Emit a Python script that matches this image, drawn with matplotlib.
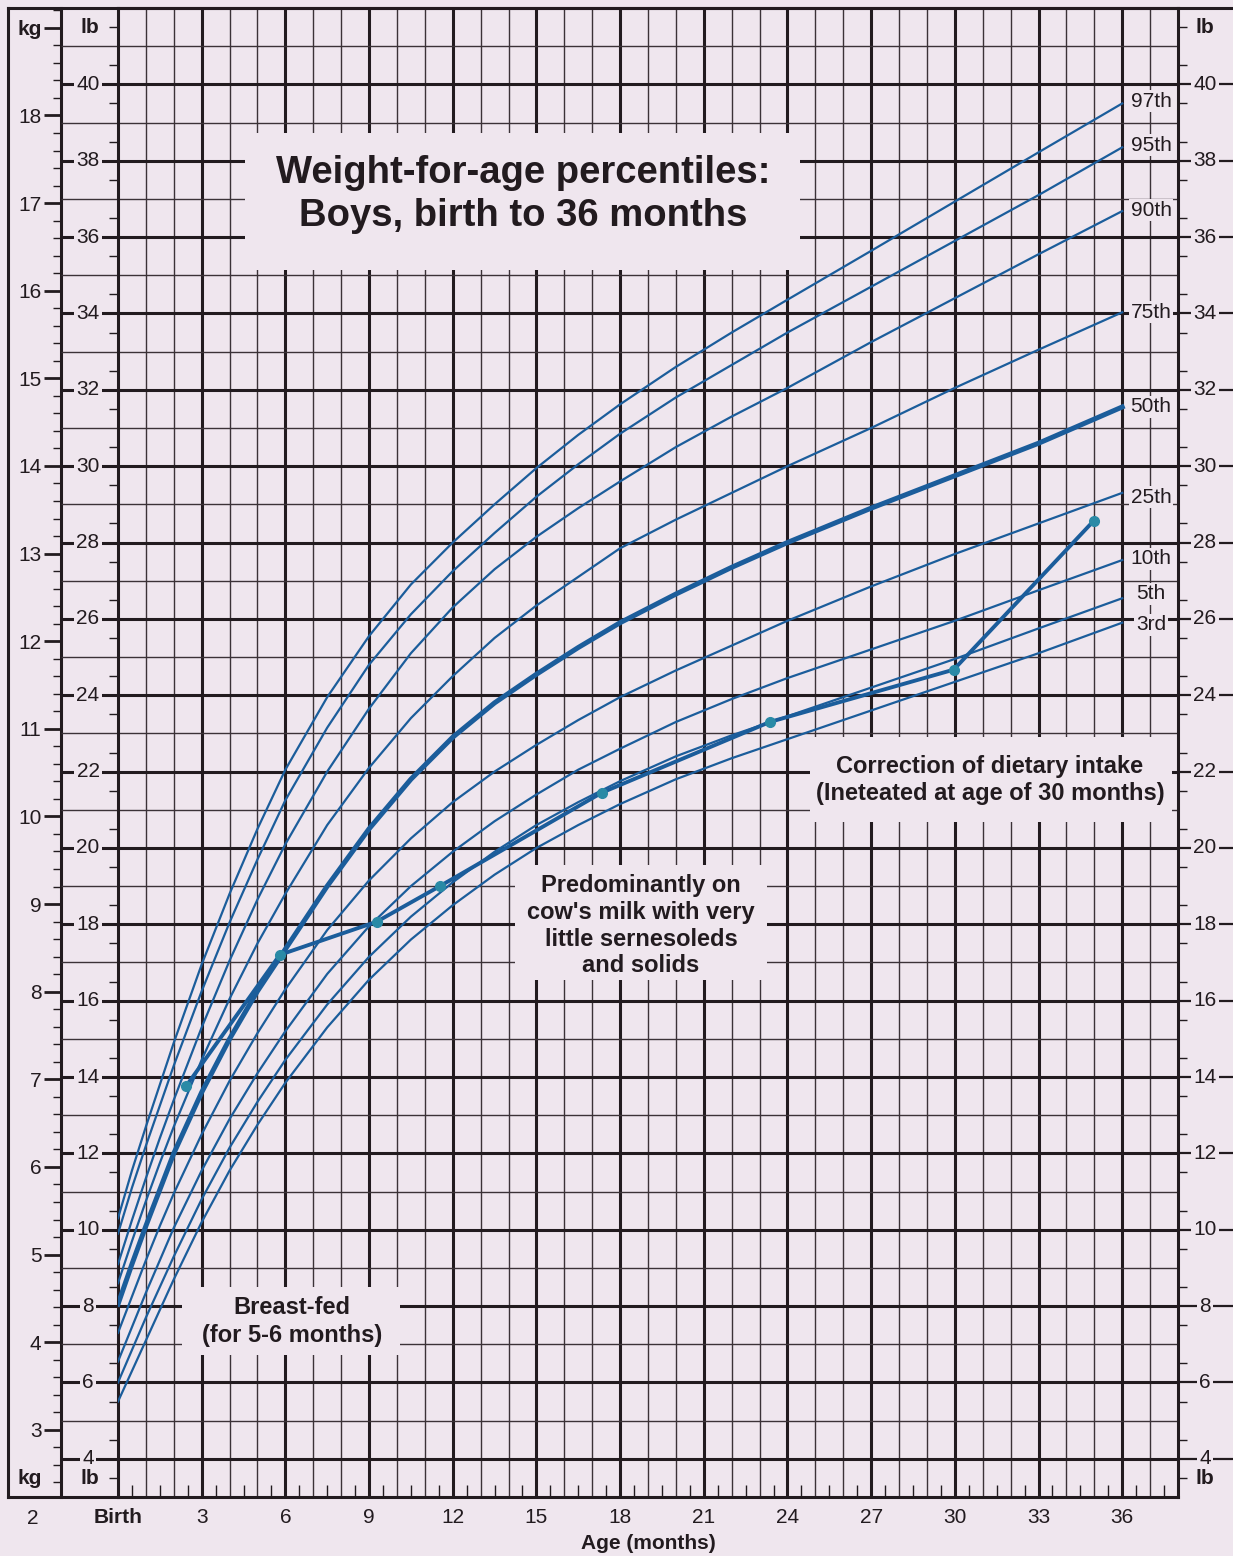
import numpy as np
import matplotlib.pyplot as plt
from matplotlib.patches import Rectangle
from matplotlib.ticker import MultipleLocator, FixedLocator

plt.rcParams["font.family"] = ["Liberation Sans", "DejaVu Sans"]

# ---- data (weight in lb) ----
months = [0, 0.5, 1, 1.5, 2, 3, 4, 5, 6, 7.5, 9, 10.5, 12, 13.5, 15, 16.5, 18, 20, 22, 24, 27, 30, 33, 36]
p97 = [10.3, 11.55, 12.7, 13.8, 14.9, 16.95, 18.8, 20.5, 22.05, 23.95, 25.55, 26.9, 28.0, 29.0,
       29.95, 30.82, 31.62, 32.6, 33.5, 34.36, 35.64, 36.93, 38.22, 39.5]
p95 = [9.9, 11.1, 12.2, 13.25, 14.3, 16.25, 18.05, 19.7, 21.25, 23.15, 24.8, 26.12, 27.25, 28.25,
       29.2, 30.05, 30.85, 31.8, 32.65, 33.5, 34.7, 35.9, 37.1, 38.35]
p90 = [9.1, 10.25, 11.35, 12.4, 13.4, 15.3, 17.05, 18.65, 20.1, 22.0, 23.65, 25.1, 26.3, 27.3,
       28.15, 28.9, 29.6, 30.5, 31.3, 32.05, 33.25, 34.4, 35.55, 36.68]
p75 = [8.6, 9.7, 10.75, 11.75, 12.7, 14.45, 16.05, 17.5, 18.8, 20.6, 22.1, 23.4, 24.5, 25.5,
       26.35, 27.1, 27.85, 28.6, 29.3, 30.0, 31.0, 32.05, 33.05, 34.03]
p50 = [8.05, 9.1, 10.1, 11.05, 12.0, 13.6, 15.0, 16.25, 17.35, 19.0, 20.5, 21.8, 22.9, 23.8,
       24.55, 25.25, 25.9, 26.65, 27.35, 28.0, 28.9, 29.75, 30.6, 31.55]
p25 = [7.3, 8.25, 9.2, 10.1, 10.95, 12.5, 13.9, 15.15, 16.3, 17.85, 19.15, 20.25, 21.2, 22.0,
       22.7, 23.35, 23.95, 24.65, 25.3, 25.95, 26.85, 27.7, 28.5, 29.3]
p10 = [6.55, 7.45, 8.35, 9.2, 10.05, 11.55, 12.9, 14.1, 15.2, 16.7, 17.95, 19.0, 19.9, 20.7,
       21.4, 22.05, 22.6, 23.3, 23.9, 24.45, 25.2, 25.95, 26.75, 27.54]
p5 = [6.0, 6.85, 7.7, 8.5, 9.3, 10.8, 12.15, 13.35, 14.45, 15.9, 17.15, 18.2, 19.1, 19.9,
      20.6, 21.2, 21.75, 22.4, 22.95, 23.45, 24.2, 24.95, 25.75, 26.54]
p3 = [5.5, 6.3, 7.1, 7.9, 8.7, 10.2, 11.55, 12.75, 13.85, 15.3, 16.55, 17.6, 18.5, 19.3,
      20.0, 20.6, 21.15, 21.8, 22.35, 22.85, 23.6, 24.35, 25.1, 25.9]
curves = [p97, p95, p90, p75, p50, p25, p10, p5, p3]
pct_labels = ["97th", "95th", "90th", "75th", "50th", "25th", "10th", "5th", "3rd"]
pct_label_lb = [39.56, 38.4, 36.7, 34.03, 31.55, 29.19, 27.57, 26.66, 25.84]

patient_months = [2.44, 5.8, 9.28, 11.54, 17.35, 23.37, 29.96, 34.98]
patient_lb = [13.76, 17.2, 18.07, 19.0, 21.45, 23.3, 24.67, 28.57]

lb_ticks = list(range(4, 41, 2))
kg_ticks = list(range(3, 19))
month_ticks = list(range(0, 37, 3))
month_labels = ["Birth"] + [str(m) for m in range(3, 37, 3)]

# ---- styling ----
W, H = 1233, 1556
BG = "#efe6ee"
INK = "#221b1f"
GRID_THIN = "#3b3237"
BLUE = "#1b5d9b"
DOT = "#2a8aa6"
XMAX, YMIN, YMAX = 38, 3, 42


def px2mo(px):
  return (px - 118) / 1060 * XMAX


def py2lb(py):
  return YMAX - (py - 8) / 1489 * (YMAX - YMIN)


def kg2lb(kg):
  return 4.76 + (np.asarray(kg, dtype=float) - 3) * 2.295


def lb2kg(lb):
  return 3 + (np.asarray(lb, dtype=float) - 4.76) / 2.295


def put_lines(ax, xpx, ypxs, lines, size, weight="bold"):
  for ypx, line in zip(ypxs, lines):
    ax.text(px2mo(xpx), py2lb(ypx), line, ha="center", va="center", fontsize=size,
            fontweight=weight, color=INK, zorder=5, clip_on=False)


fig = plt.figure(figsize=(W / 100, H / 100), dpi=100, facecolor=BG)
ax = fig.add_axes([118 / W, 1 - 1497 / H, 1060 / W, 1489 / H])
ax.set_facecolor(BG)
ax.set_xlim(0, XMAX)
ax.set_ylim(YMIN, YMAX)

# grid
for m in range(1, XMAX):
  thick = m % 3 == 0
  ax.axvline(m, color=INK if thick else GRID_THIN, lw=2.2 if thick else 1.0, zorder=1)
for v in range(4, YMAX):
  thick = v % 2 == 0
  ax.plot([px2mo(61), XMAX], [v, v], color=INK if thick else GRID_THIN,
          lw=2.2 if thick else 1.0, zorder=1, clip_on=False, solid_capstyle="butt")
  if thick:
    ax.plot([XMAX, px2mo(1233)], [v, v], color=INK, lw=1.6, zorder=1, clip_on=False,
            solid_capstyle="butt")

for s in ax.spines.values():
  s.set_color(INK)
  s.set_linewidth(2.2)

# outer frame lines
ax.plot([px2mo(8), px2mo(1233)], [YMAX, YMAX], color=INK, lw=2.2, clip_on=False)
ax.plot([px2mo(8), px2mo(8)], [YMIN, YMAX], color=INK, lw=2.2, clip_on=False)
ax.plot([px2mo(8), 0], [YMIN, YMIN], color=INK, lw=2.2, clip_on=False)

# masks behind annotation text
boxes = [(245, 800, 133, 270), (515, 767, 865, 980), (182, 400, 1287, 1355), (810, 1172, 737, 822)]
for x0, x1, y0, y1 in boxes:
  ax.add_patch(Rectangle((px2mo(x0), py2lb(y1)), px2mo(x1) - px2mo(x0), py2lb(y0) - py2lb(y1),
                         facecolor=BG, edgecolor="none", zorder=2))

# percentile curves
for name, vals in zip(pct_labels, curves):
  ax.plot(months, vals, color=BLUE, lw=3.6 if name == "50th" else 1.6, zorder=3,
          solid_joinstyle="round")
for name, y in zip(pct_labels, pct_label_lb):
  ax.text(px2mo(1151), y, name, ha="center", va="center", fontsize=15, color=INK, zorder=5,
          bbox=dict(facecolor=BG, edgecolor="none", pad=1.0))

# patient track
ax.plot(patient_months, patient_lb, color=BLUE, lw=2.8, zorder=4)
ax.plot(patient_months, patient_lb, "o", color=DOT, ms=7, zorder=4)

# x axis
ax.set_xticks(month_ticks)
ax.set_xticklabels(month_labels, fontsize=15, color=INK)
ax.get_xticklabels()[0].set_fontweight("bold")
ax.set_xticks(np.arange(0.5, XMAX, 1), minor=True)
ax.tick_params(axis="x", which="major", length=0, pad=8)
ax.tick_params(axis="x", which="minor", direction="in", length=8.5, width=1.0, color=INK)
ax.set_xlabel("Age (months)", fontsize=15, fontweight="bold", color=INK, labelpad=5)

# lb axes (left and right)
ax.set_yticks([])
ax.set_yticks(np.arange(3.5, YMAX, 1), minor=True)
ax.tick_params(axis="y", which="minor", left=True, right=True, direction="out",
               length=6.5, width=1.0, color=INK)
for v in lb_ticks:
  for xp in (88, 1205):
    ax.text(px2mo(xp), v, str(v), ha="center", va="center", fontsize=15, color=INK, zorder=5,
            bbox=dict(facecolor=BG, edgecolor="none", pad=1.5), clip_on=False)
for xp in (90, 1205):
  put_lines(ax, xp, [27, 1478], ["lb", "lb"], 15)

# kg axis
kax = ax.secondary_yaxis((61 - 118) / 1060, functions=(lb2kg, kg2lb))
kax.spines["left"].set_color(INK)
kax.spines["left"].set_linewidth(2.2)
kax.yaxis.set_major_locator(FixedLocator(kg_ticks + [19]))
kax.set_yticklabels([str(k) for k in kg_ticks] + ["kg"], fontsize=15, color=INK)
kax.get_yticklabels()[-1].set_fontweight("bold")
kax.yaxis.set_minor_locator(MultipleLocator(0.2))
kax.tick_params(which="major", direction="out", length=12, width=2.0, color=INK, pad=2)
kax.tick_params(which="minor", direction="out", length=6, width=1.0, color=INK)
put_lines(ax, 30, [1478], ["kg"], 15)
put_lines(ax, 33, [1518], ["2"], 15, weight="normal")

# annotations
put_lines(ax, 523, [173, 216], ["Weight-for-age percentiles:", "Boys, birth to 36 months"], 27.5)
put_lines(ax, 641, [885, 912, 939, 965],
          ["Predominantly on", "cow's milk with very", "little sernesoleds", "and solids"], 17)
put_lines(ax, 292, [1307, 1335], ["Breast-fed", "(for 5-6 months)"], 17)
put_lines(ax, 990, [766, 793], ["Correction of dietary intake", "(Ineteated at age of 30 months)"], 17)

fig.savefig("out.png", dpi=100, facecolor=BG)
